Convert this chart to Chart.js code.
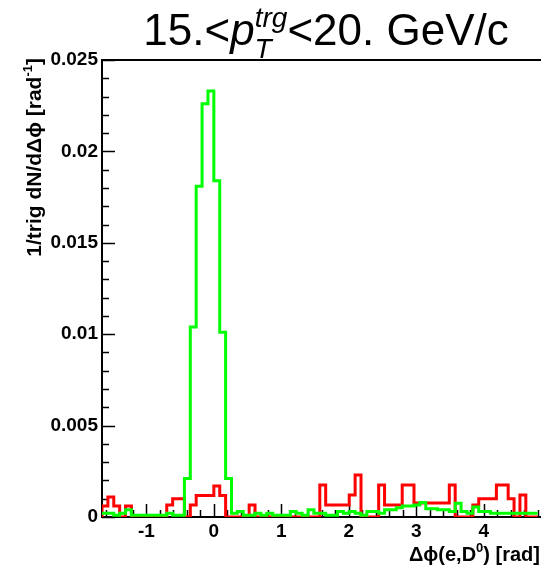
<!DOCTYPE html>
<html>
<head>
<meta charset="utf-8">
<script src="https://cdn.jsdelivr.net/npm/chart.js@4"></script>
<style>
  html, body { margin: 0; padding: 0; background: #fff; overflow: hidden; }
  canvas { display: block; }
</style>
</head>
<body>
<canvas id="myChart" width="541" height="573"></canvas>
<script>
// histogram binning: 5 degree bins
const binWidth = Math.PI / 36;
const binStart = -Math.PI / 2 - binWidth;
const xMin = binStart;
const xMax = 4.85;

// red histogram (per bin)
const redValues = [
  0,
  0.0006, 0.0011, 0.0006, 0, 0.0006, 0, 0, 0, 0, 0,
  0, 0.00066, 0.001, 0.001, 0, 0.00066, 0.00117, 0.00117, 0.00117, 0.0017,
  0.00117, 0, 0, 0, 0, 0.00066, 0, 0, 0, 0,
  0, 0, 0, 0, 0, 0, 0, 0.00175, 0.00066, 0.00066,
  0.00066, 0.00066, 0.0012, 0.0023, 0, 0, 0, 0.00175, 0.00066, 0.00066,
  0.00066, 0.00175, 0.00175, 0.00077, 0.00077, 0.00077, 0.00077, 0.00077, 0.00077, 0.00175,
  0, 0, 0, 0.00066, 0.001, 0.001, 0.001, 0.00175, 0.00175, 0.001,
  0, 0.0012, 0
];

// green histogram (per bin)
const greenValues = [
  0.0002,
  0.0002, 0.0002, 0.0001, 0.0002, 0.0004, 0.0001, 0.0001, 0.0001, 0.0001, 0.0001,
  0.0001, 0.0002, 0.0001, 0.0001, 0.0021, 0.0104, 0.0181, 0.0226, 0.0233, 0.0184,
  0.0101, 0.0021, 0.0002, 0.0003, 0.0001, 0.0001, 0.0002, 0.0001, 0.0002, 0.0001,
  0.0001, 0.0001, 0.0003, 0.0002, 0.0001, 0.0004, 0.0002, 0.0002, 0.0001, 0.0001,
  0.0003, 0.0002, 0.0003, 0.0002, 0.0001, 0.0003, 0.0003, 0.0002, 0.0004, 0.0004,
  0.0005, 0.0006, 0.0006, 0.00066, 0.0008, 0.00045, 0.00045, 0.0004, 0.0004, 0.0003,
  0.00075, 0.0003, 0.0002, 0.00055, 0.0003, 0.0003, 0.0002, 0.0002, 0.0002, 0.0002,
  0.0002, 0.0002, 0.0002
];

const xTickValues = [-1, 0, 1, 2, 3, 4];
const yTickValues = [0, 0.005, 0.01, 0.015, 0.02, 0.025];
const yTickLabels = ['0', '0.005', '0.01', '0.015', '0.02', '0.025'];

const fontFamily = '"Liberation Sans", Arial, Helvetica, sans-serif';

// step histogram points: left edge of every bin, plus the closing edge
function histPoints(values) {
  const pts = values.map((v, i) => ({ x: binStart + i * binWidth, y: v }));
  pts.push({ x: binStart + values.length * binWidth, y: values[values.length - 1] });
  return pts;
}

// ROOT-like inner tick marks and top frame line
const frameTicks = {
  id: 'frameTicks',
  beforeDatasetsDraw(chart) {
    const c = chart.ctx;
    const a = chart.chartArea;
    const xs = chart.scales.x, ys = chart.scales.y;
    c.save();
    c.strokeStyle = '#000';
    c.lineWidth = 1.5;
    c.beginPath();
    for (let k = 0; k <= 25; k++) {
      const v = k * 0.001;
      const py = Math.round(ys.getPixelForValue(v)) + 0.5;
      const len = (k % 5 === 0) ? 13 : 7;
      c.moveTo(a.left, py);
      c.lineTo(a.left + len, py);
    }
    for (let k = -8; k <= 24; k++) {
      const v = k * 0.2;
      if (v < xMin || v > xMax) continue;
      const px = Math.round(xs.getPixelForValue(v)) + 0.5;
      const len = (k % 5 === 0) ? 13 : 7;
      c.moveTo(px, a.bottom);
      c.lineTo(px, a.bottom - len);
    }
    c.stroke();
    c.lineWidth = 2;
    c.beginPath();
    c.moveTo(a.left, a.top);
    c.lineTo(a.right, a.top);
    c.stroke();
    c.restore();
  }
};

function drawPieces(c, pieces, x, y) {
  let cx = x;
  pieces.forEach(p => {
    c.font = p.font;
    c.fillText(p.t, cx + (p.dx || 0), y + (p.dy || 0));
    cx += c.measureText(p.t).width + (p.dx || 0) + (p.adv || 0);
  });
  return cx - x;
}
function piecesWidth(c, pieces) {
  let w = 0;
  pieces.forEach(p => {
    c.font = p.font;
    w += c.measureText(p.t).width + (p.dx || 0) + (p.adv || 0);
  });
  return w;
}

// title and axis titles with sub/superscripts
const textPlugin = {
  id: 'texts',
  afterDraw(chart) {
    const c = chart.ctx;
    c.save();
    c.fillStyle = '#000';
    c.textBaseline = 'alphabetic';
    c.textAlign = 'left';

    const big = '44px ' + fontFamily;
    const bigIt = 'italic 44px ' + fontFamily;
    const small = 'italic 28px ' + fontFamily;
    const title = [
      { t: '15.<', font: big },
      { t: 'p', font: bigIt },
      { t: 'T', font: small, dy: 13, adv: -17 },
      { t: 'trg', font: small, dy: -18 },
      { t: '<20. GeV/c', font: big }
    ];
    const tw = piecesWidth(c, title);
    drawPieces(c, title, 326 - tw / 2, 45);

    const yb = 'bold 21px ' + fontFamily;
    const ys = 'bold 13px ' + fontFamily;
    const yTitle = [
      { t: '1/trig dN/d\u0394\u03d5 [rad', font: yb },
      { t: '-1', font: ys, dy: -9 },
      { t: ']', font: yb }
    ];
    const yw = piecesWidth(c, yTitle);
    c.save();
    c.translate(41, 58);
    c.rotate(-Math.PI / 2);
    drawPieces(c, yTitle, -yw, 0);
    c.restore();

    const xb = 'bold 20px ' + fontFamily;
    const xsm = 'bold 13px ' + fontFamily;
    const xTitle = [
      { t: '\u0394\u03d5(e,D', font: xb },
      { t: '0', font: xsm, dy: -9 },
      { t: ') [rad]', font: xb }
    ];
    const xw = piecesWidth(c, xTitle);
    drawPieces(c, xTitle, 540 - xw, 561);
    c.restore();
  }
};

const ctx = document.getElementById('myChart').getContext('2d');
const myChart = new Chart(ctx, {
  type: 'line',
  data: {
    datasets: [
      {
        label: 'green',
        data: histPoints(greenValues),
        borderColor: '#00ff00',
        borderWidth: 3,
        pointRadius: 0,
        stepped: 'after',
        fill: false
      },
      {
        label: 'red',
        data: histPoints(redValues),
        borderColor: '#ff0000',
        borderWidth: 3,
        pointRadius: 0,
        stepped: 'after',
        fill: false
      }
    ]
  },
  options: {
    responsive: false,
    animation: false,
    layout: { padding: { top: 60, left: 0, right: 0, bottom: 0 } },
    plugins: {
      legend: { display: false },
      tooltip: { enabled: false }
    },
    scales: {
      x: {
        type: 'linear',
        min: xMin,
        max: xMax,
        afterBuildTicks: s => { s.ticks = xTickValues.map(v => ({ value: v })); },
        afterFit: s => { s.height = 56; },
        ticks: {
          font: { family: fontFamily, size: 19, weight: 'bold' },
          color: '#000',
          padding: 3,
          maxRotation: 0,
          autoSkip: false,
          callback: v => String(v)
        },
        grid: { display: false, drawTicks: false },
        border: { color: '#000', width: 2 }
      },
      y: {
        type: 'linear',
        min: 0,
        max: 0.025,
        afterBuildTicks: s => { s.ticks = yTickValues.map(v => ({ value: v })); },
        afterFit: s => { s.width = 102; },
        ticks: {
          font: { family: fontFamily, size: 19, weight: 'bold' },
          color: '#000',
          padding: 4,
          autoSkip: false,
          callback: (v, i) => yTickLabels[i]
        },
        grid: { display: false, drawTicks: false },
        border: { color: '#000', width: 2 }
      }
    }
  },
  plugins: [frameTicks, textPlugin]
});
</script>
</body>
</html>
